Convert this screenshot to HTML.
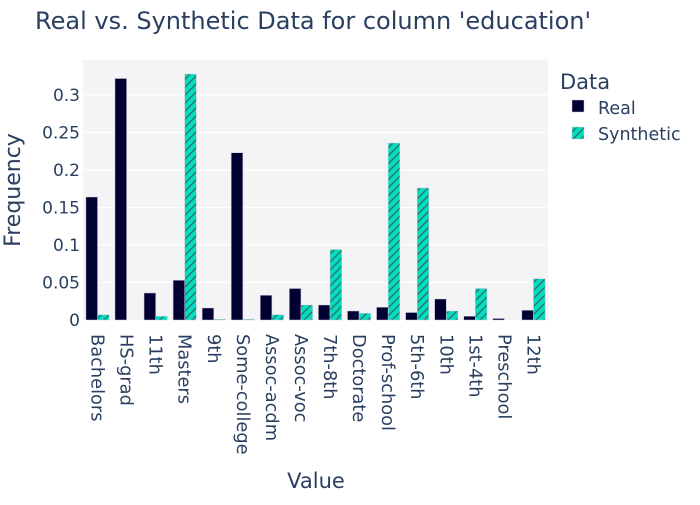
<!DOCTYPE html>
<html><head><meta charset="utf-8"><style>
body{margin:0;background:#fff;font-family:"Liberation Sans","DejaVu Sans",sans-serif}
</style></head><body>
<svg id="chart" width="700" height="500" xmlns="http://www.w3.org/2000/svg" style="font-family:'DejaVu Sans','Liberation Sans',sans-serif">
<defs>
<pattern id="hatch" patternUnits="userSpaceOnUse" width="8" height="8">
<rect width="8" height="8" fill="#00e0c0"/>
<path d="M-2,2 L2,-2 M0,8 L8,0 M6,10 L10,6" stroke="#2a7f74" stroke-width="1.6"/>
</pattern>
</defs>
<rect x="0" y="0" width="700" height="500" fill="#fff"/>
<text x="35" y="29" font-size="24" fill="#2a3f5f">Real vs. Synthetic Data for column 'education'</text>
<rect x="83" y="60" width="465" height="260" fill="#f4f4f7"/>
<g id="grid"></g>
<g id="bars"></g>
<g id="yticks"></g>
<g id="xticks"></g>
<text x="316" y="488" font-size="21" fill="#2a3f5f" text-anchor="middle">Value</text>
<text transform="translate(20,190) rotate(-90)" font-size="22" fill="#2a3f5f" text-anchor="middle">Frequency</text>
<g>
<text x="560" y="89" font-size="21" fill="#2a3f5f">Data</text>
<g>
<rect x="572" y="100" width="12" height="12" fill="#000033" stroke="#c8c8d8" stroke-width="0.5"/>
<text x="598" y="114" font-size="17.5" fill="#2a3f5f">Real</text></g>
<g>
<rect x="572" y="127" width="12" height="12" fill="url(#hatch)" stroke="#c8c8d8" stroke-width="0.5"/>
<text x="598" y="140" font-size="17.5" fill="#2a3f5f">Synthetic</text></g>
</g>
</svg>
<script>
const categories=["Bachelors","HS-grad","11th","Masters","9th","Some-college","Assoc-acdm","Assoc-voc","7th-8th","Doctorate","Prof-school","5th-6th","10th","1st-4th","Preschool","12th"];
const realValues=[0.164,0.322,0.036,0.053,0.016,0.223,0.033,0.042,0.020,0.012,0.017,0.010,0.028,0.005,0.002,0.013];
const syntheticValues=[0.007,0,0.005,0.328,0.001,0.001,0.007,0.020,0.094,0.009,0.236,0.176,0.012,0.042,0,0.055];
const yTickValues=[0,0.05,0.1,0.15,0.2,0.25,0.3];
const yTickLabels=["0","0.05","0.1","0.15","0.2","0.25","0.3"];
const NS="http://www.w3.org/2000/svg";
const L=83,R=548,T=60,B=320,YMAX=260/750;
function y(v){return B-(v/YMAX)*(B-T);}
const band=(R-L)/categories.length;
function x(i){return L+i*band;}
function mk(t,a,p){const e=document.createElementNS(NS,t);for(const k in a)e.setAttribute(k,a[k]);p.appendChild(e);return e;}
const grid=document.getElementById('grid'),yt=document.getElementById('yticks'),xt=document.getElementById('xticks'),bars=document.getElementById('bars');
yTickValues.forEach((v,i)=>{
 if(v>0){const g=mk('line',{x1:L,x2:R,y1:y(v),y2:y(v),stroke:'#fff','stroke-width':1},grid);
 
 }
 const t=mk('text',{x:L-3,y:y(v)+6,'font-size':17,fill:'#2a3f5f','text-anchor':'end'},yt);
 t.textContent=yTickLabels[i];
 
 
});
const bw=band*0.8/2;
categories.forEach((c,i)=>{
 const x0=x(i)+band*0.1;
 const r=mk('rect',{x:x0,y:y(realValues[i]),width:bw,height:B-y(realValues[i]),fill:'#000033',stroke:'#c8c8d8','stroke-width':0.5},bars);
 
 
 const s=mk('rect',{x:x0+bw,y:y(syntheticValues[i]),width:bw,height:B-y(syntheticValues[i]),fill:'url(#hatch)',stroke:'#c8c8d8','stroke-width':0.5},bars);
 
 
 const cx=x(i)+band/2;
 const t=mk('text',{transform:`translate(${cx-6},${B+14}) rotate(90)`,'font-size':17.8,fill:'#2a3f5f'},xt);
 t.textContent=c;
 
 
});
</script>
</body></html>
